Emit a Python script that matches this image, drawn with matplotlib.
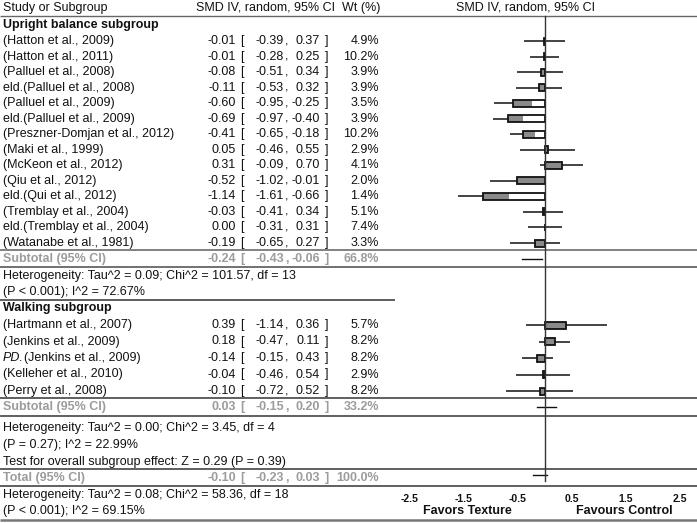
import matplotlib
matplotlib.use("Agg")
import matplotlib.pyplot as plt
import numpy as np

plt.rcParams['font.family'] = ['Liberation Sans', 'DejaVu Sans']

# ---------------- data ----------------
up_names = ["(Hatton et al., 2009)", "(Hatton et al., 2011)", "(Palluel et al., 2008)",
            "eld.(Palluel et al., 2008)", "(Palluel et al., 2009)", "eld.(Palluel et al., 2009)",
            "(Preszner-Domjan et al., 2012)", "(Maki et al., 1999)", "(McKeon et al., 2012)",
            "(Qiu et al., 2012)", "eld.(Qui et al., 2012)", "(Tremblay et al., 2004)",
            "eld.(Tremblay et al., 2004)", "(Watanabe et al., 1981)"]
up_est = [-0.01, -0.01, -0.08, -0.11, -0.60, -0.69, -0.41, 0.05, 0.31, -0.52, -1.14, -0.03, 0.00, -0.19]
up_lo = [-0.39, -0.28, -0.51, -0.53, -0.95, -0.97, -0.65, -0.46, -0.09, -1.02, -1.61, -0.41, -0.31, -0.65]
up_hi = [0.37, 0.25, 0.34, 0.32, -0.25, -0.40, -0.18, 0.55, 0.70, -0.01, -0.66, 0.34, 0.31, 0.27]
up_wt = [4.9, 10.2, 3.9, 3.9, 3.5, 3.9, 10.2, 2.9, 4.1, 2.0, 1.4, 5.1, 7.4, 3.3]
up_sub = (-0.24, -0.43, -0.06, 66.8)

wk_names = ["(Hartmann et al., 2007)", "(Jenkins et al., 2009)", "PD.(Jenkins et al., 2009)",
            "(Kelleher et al., 2010)", "(Perry et al., 2008)"]
wk_est = [0.39, 0.18, -0.14, -0.04, -0.10]
wk_lo = [-1.14, -0.47, -0.15, -0.46, -0.72]
wk_hi = [0.36, 0.11, 0.43, 0.54, 0.52]
wk_wt = [5.7, 8.2, 8.2, 2.9, 8.2]
# CI whiskers as drawn in the plot panel (differ from the printed table)
wk_lo_drawn = [-0.36, -0.11, -0.43, -0.54, -0.72]
wk_hi_drawn = [1.14, 0.47, 0.15, 0.46, 0.52]
wk_sub = (0.03, -0.15, 0.20, 33.2)

total = (-0.10, -0.23, 0.03, 100.0)

het_up = ["Heterogeneity: Tau^2 = 0.09; Chi^2 = 101.57, df = 13", "(P < 0.001); I^2 = 72.67%"]
het_wk = ["Heterogeneity: Tau^2 = 0.00; Chi^2 = 3.45, df = 4", "(P = 0.27); I^2 = 22.99%",
          "Test for overall subgroup effect: Z = 0.29 (P = 0.39)"]
het_tot = ["Heterogeneity: Tau^2 = 0.08; Chi^2 = 58.36, df = 18", "(P < 0.001); I^2 = 69.15%"]

tick_vals = [-2.5, -1.5, -0.5, 0.5, 1.5, 2.5]
tick_labels = ["-2.5", "-1.5", "-0.5", "0.5", "1.5", "2.5"]

# ---------------- layout (pixel rows) ----------------
W, H = 697, 523
y_header = 8
y_up_title = 25
y_up = list(np.linspace(41, 243, len(up_names)))
y_up_sub = 259
y_het_up = [276, 292]
y_wk_title = 308
y_wk = list(np.linspace(325, 391, len(wk_names)))
y_wk_sub = 407
y_het_wk = [428, 445, 462]
y_tot = 478
y_het_tot = [495, 511]

FS = 9
TXT = '#111111'
GREY_TXT = '#9c9c9c'

fig = plt.figure(figsize=(W / 100, H / 100), dpi=100)
ax0 = fig.add_axes([0, 0, 1, 1])
ax0.set_xlim(0, W)
ax0.set_ylim(H, 0)
ax0.axis('off')

# forest axes
fb = 492
axf = fig.add_axes([390 / W, (H - fb) / H, (W - 390) / W, fb / H])
axf.set_xlim((390 - 545) / 54.0, (W - 545) / 54.0)
axf.set_ylim(fb, 0)
axf.patch.set_alpha(0)
for s in axf.spines.values():
    s.set_visible(False)
axf.set_yticks([])
axf.set_xticks(tick_vals)
axf.set_xticklabels(tick_labels, fontsize=7.5, fontweight='bold', color=TXT)
axf.tick_params(axis='x', length=0, pad=1.5)

# horizontal rules
def hline(y, x0=0, x1=W, c='#555555', lw=1.1):
    ax0.plot([x0, x1], [y, y], color=c, lw=lw, solid_capstyle='butt', zorder=1)

hline(16, c='#666666', lw=1.0)
hline(250, c='#777777', lw=1.3)
hline(267, c='#666666', lw=1.3)
hline(300, 0, 395, c='#333333', lw=1.1)
hline(398, c='#444444', lw=1.2)
hline(416, c='#444444', lw=1.2)
hline(469, c='#444444', lw=1.2)
hline(486, c='#444444', lw=1.2)
hline(520, c='#777777', lw=1.8)

# header
ax0.text(3, y_header, "Study or Subgroup", fontsize=FS, color=TXT, va='center', ha='left')
ax0.text(266, y_header, "SMD IV, random, 95% CI", fontsize=FS, color=TXT, va='center', ha='center')
ax0.text(361, y_header, "Wt (%)", fontsize=FS, color=TXT, va='center', ha='center')
ax0.text(526, y_header, "SMD IV, random, 95% CI", fontsize=FS, color=TXT, va='center', ha='center')

def table_row(y, name, est, lo, hi, wt, bold=False, color=TXT, italic_prefix=None):
    kw = dict(fontsize=FS, color=color, va='center', fontweight='bold' if bold else 'normal')
    if italic_prefix and name.startswith(italic_prefix):
        t = ax0.text(3, y, italic_prefix, ha='left', style='italic', **kw)
        ax0.annotate(name[len(italic_prefix):], xy=(1, 0.5), xycoords=t, ha='left', **kw)
    else:
        ax0.text(3, y, name, ha='left', **kw)
    ax0.text(236, y, f"{est:.2f}", ha='right', **kw)
    ax0.text(240, y, "[", ha='left', **kw)
    ax0.text(284, y, f"{lo:.2f}", ha='right', **kw)
    ax0.text(285, y, ",", ha='left', **kw)
    ax0.text(320, y, f"{hi:.2f}", ha='right', **kw)
    ax0.text(325, y, "]", ha='left', **kw)
    ax0.text(379, y, f"{wt:.1f}%", ha='right', **kw)

BOX_H = 7
LINE_C = '#111111'

def study_mark(y, est, lo, hi):
    axf.plot([lo, hi], [y, y], color=LINE_C, lw=1.1, zorder=2, solid_capstyle='butt')
    b0, b1 = min(0.0, est), max(0.0, est)
    axf.barh(y, est, left=0, height=BOX_H, color='white', edgecolor='none', zorder=3)
    g0, g1 = max(lo, b0), min(hi, b1)
    if g1 > g0:
        axf.barh(y, g1 - g0, left=g0, height=BOX_H, color='#8a8a8a', edgecolor='none', zorder=4)
    axf.barh(y, est, left=0, height=BOX_H, color='none', edgecolor='#111111', linewidth=1.3, zorder=5)

# upright subgroup
ax0.text(3, y_up_title, "Upright balance subgroup", fontsize=FS, fontweight='bold', color=TXT, va='center')
for i, n in enumerate(up_names):
    table_row(y_up[i], n, up_est[i], up_lo[i], up_hi[i], up_wt[i])
    study_mark(y_up[i], up_est[i], up_lo[i], up_hi[i])
table_row(y_up_sub, "Subtotal (95% CI)", *up_sub, bold=True, color=GREY_TXT)
axf.plot([up_sub[1], up_sub[2]], [y_up_sub, y_up_sub], color=LINE_C, lw=1.0, zorder=2)
for yy, t in zip(y_het_up, het_up):
    ax0.text(3, yy, t, fontsize=FS, color=TXT, va='center')

# walking subgroup
ax0.text(3, y_wk_title, "Walking subgroup", fontsize=FS, fontweight='bold', color=TXT, va='center')
for i, n in enumerate(wk_names):
    table_row(y_wk[i], n, wk_est[i], wk_lo[i], wk_hi[i], wk_wt[i], italic_prefix="PD.")
    study_mark(y_wk[i], wk_est[i], wk_lo_drawn[i], wk_hi_drawn[i])
table_row(y_wk_sub, "Subtotal (95% CI)", *wk_sub, bold=True, color=GREY_TXT)
axf.plot([wk_sub[1], wk_sub[2]], [y_wk_sub, y_wk_sub], color=LINE_C, lw=1.0, zorder=2)
for yy, t in zip(y_het_wk, het_wk):
    ax0.text(3, yy, t, fontsize=FS, color=TXT, va='center')

# total
table_row(y_tot, "Total (95% CI)", *total, bold=True, color=GREY_TXT)
axf.plot([total[1], total[2]], [y_tot - 3, y_tot - 3], color=LINE_C, lw=1.0, zorder=2)
for yy, t in zip(y_het_tot, het_tot):
    ax0.text(3, yy, t, fontsize=FS, color=TXT, va='center')

# zero line
axf.plot([0, 0], [16, 481], color='#333333', lw=1.0, zorder=6)

# favours labels
ax0.text(467, 511, "Favors Texture", fontsize=9, fontweight='bold', color=TXT, ha='center', va='center')
ax0.text(624, 511, "Favours Control", fontsize=9, fontweight='bold', color=TXT, ha='center', va='center')

fig.savefig("out.png", dpi=100)
